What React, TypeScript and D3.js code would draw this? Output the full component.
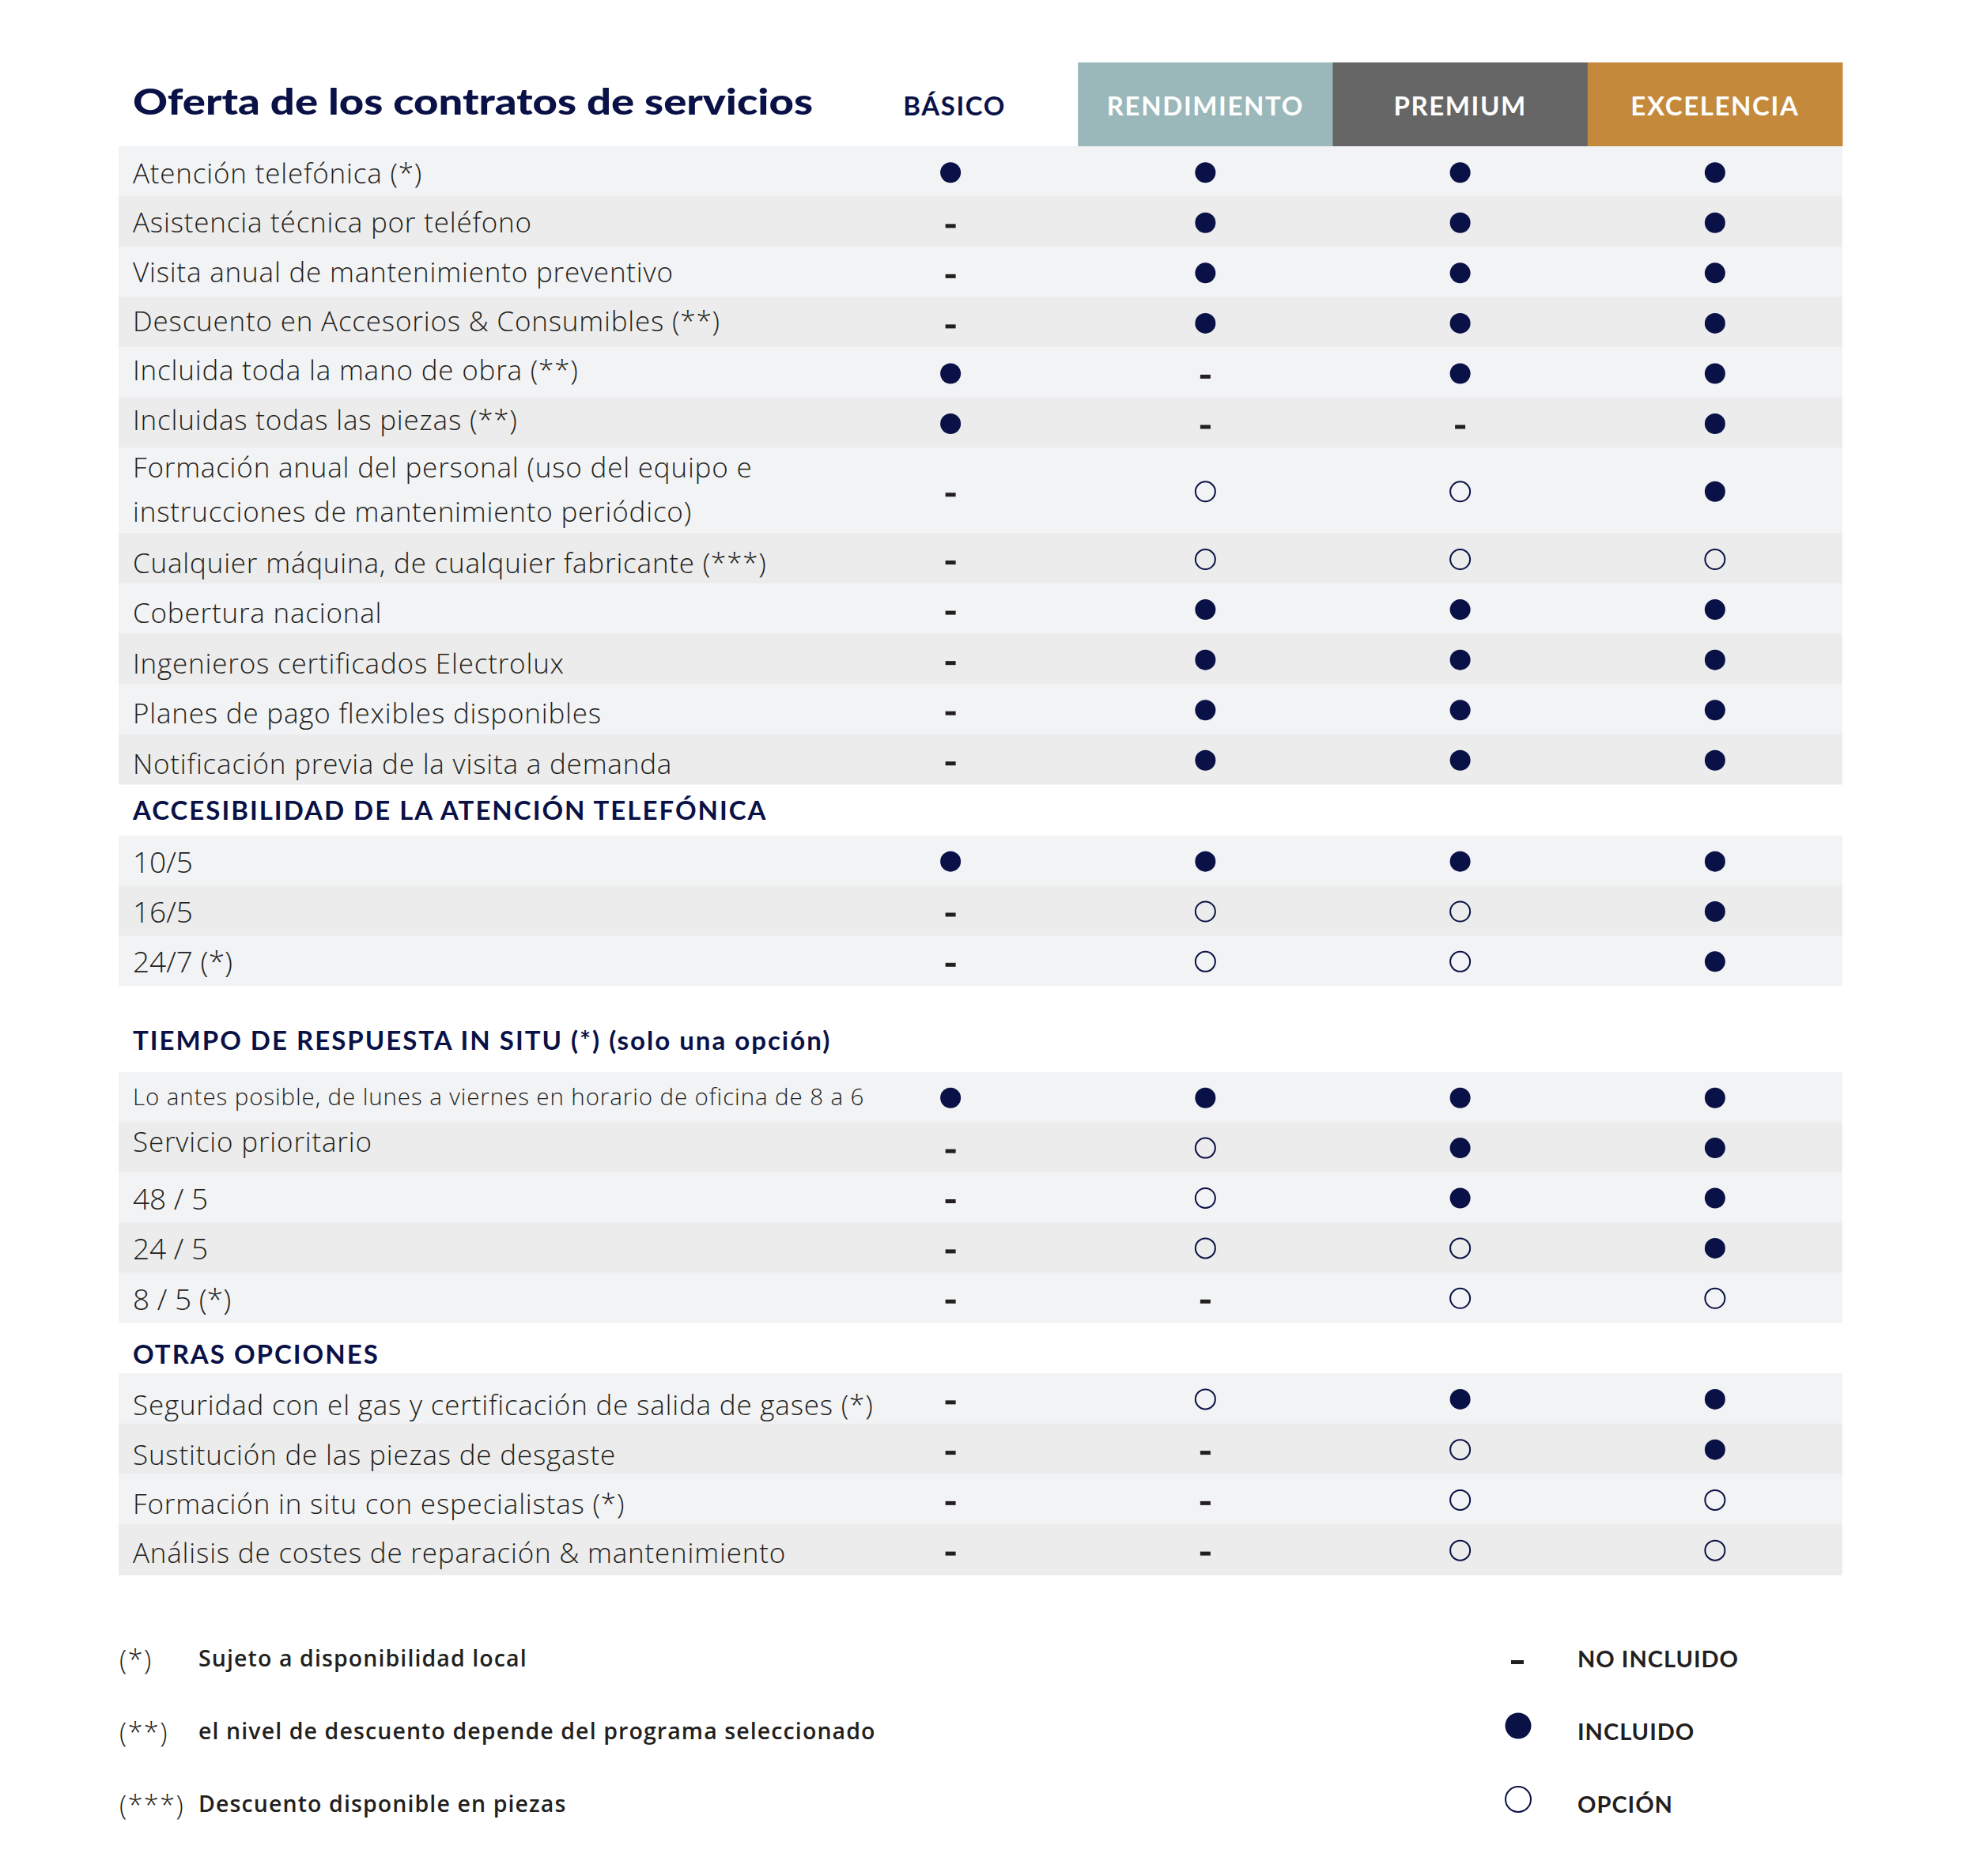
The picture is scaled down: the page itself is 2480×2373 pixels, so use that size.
import React from "react";
import * as d3 from "d3";

// ---------- DATA ----------
const title = "Oferta de los contratos de servicios";
const plans = ["BÁSICO", "RENDIMIENTO", "PREMIUM", "EXCELENCIA"];

// y = incluido, o = opción, n = no incluido
const mainLabels = [
  ["Atención telefónica (*)"],
  ["Asistencia técnica por teléfono"],
  ["Visita anual de mantenimiento preventivo"],
  ["Descuento en Accesorios & Consumibles (**)"],
  ["Incluida toda la mano de obra (**)"],
  ["Incluidas todas las piezas (**)"],
  ["Formación anual del personal (uso del equipo e", "instrucciones de mantenimiento periódico)"],
  ["Cualquier máquina, de cualquier fabricante (***)"],
  ["Cobertura nacional"],
  ["Ingenieros certificados Electrolux"],
  ["Planes de pago flexibles disponibles"],
  ["Notificación previa de la visita a demanda"],
];
const mainValues = [
  ["y", "y", "y", "y"],
  ["n", "y", "y", "y"],
  ["n", "y", "y", "y"],
  ["n", "y", "y", "y"],
  ["y", "n", "y", "y"],
  ["y", "n", "n", "y"],
  ["n", "o", "o", "y"],
  ["n", "o", "o", "o"],
  ["n", "y", "y", "y"],
  ["n", "y", "y", "y"],
  ["n", "y", "y", "y"],
  ["n", "y", "y", "y"],
];

const accessTitle = "ACCESIBILIDAD DE LA ATENCIÓN TELEFÓNICA";
const accessLabels = ["10/5", "16/5", "24/7 (*)"];
const accessValues = [
  ["y", "y", "y", "y"],
  ["n", "o", "o", "y"],
  ["n", "o", "o", "y"],
];

const responseTitle = "TIEMPO DE RESPUESTA IN SITU (*) (solo una opción)";
const responseLabels = [
  "Lo antes posible, de lunes a viernes en horario de oficina de 8 a 6",
  "Servicio prioritario",
  "48 / 5",
  "24 / 5",
  "8 / 5 (*)",
];
const responseValues = [
  ["y", "y", "y", "y"],
  ["n", "o", "y", "y"],
  ["n", "o", "y", "y"],
  ["n", "o", "o", "y"],
  ["n", "n", "o", "o"],
];

const otherTitle = "OTRAS OPCIONES";
const otherLabels = [
  "Seguridad con el gas y certificación de salida de gases (*)",
  "Sustitución de las piezas de desgaste",
  "Formación in situ con especialistas (*)",
  "Análisis de costes de reparación & mantenimiento",
];
const otherValues = [
  ["n", "o", "y", "y"],
  ["n", "n", "o", "y"],
  ["n", "n", "o", "o"],
  ["n", "n", "o", "o"],
];

const footnoteMarks = ["(*)", "(**)", "(***)"];
const footnoteTexts = [
  "Sujeto a disponibilidad local",
  "el nivel de descuento depende del programa seleccionado",
  "Descuento disponible en piezas",
];
const legendKinds = ["n", "y", "o"];
const legendLabels = ["NO INCLUIDO", "INCLUIDO", "OPCIÓN"];

// ---------- STYLE ----------
const NAVY = "#0a1146";
const INK = "#231f20";
const ROW_A = "#f2f3f5";
const ROW_B = "#ececec";
const headerFills = ["none", "#9ab7ba", "#666666", "#c4893b"];
const headerText = [NAVY, "#ffffff", "#ffffff", "#ffffff"];
const BOLD = "Lato, 'Open Sans', sans-serif";
const LIGHT = "'Open Sans', Lato, sans-serif";

const W = 2480;
const H = 2373;

function Mark({ kind, cx, cy, r = 13 }: { kind: string; cx: number; cy: number; r?: number }) {
  if (kind === "y") return <circle cx={cx} cy={cy} r={r} fill={NAVY} />;
  if (kind === "o")
    return <circle cx={cx} cy={cy} r={r - 0.5} fill="none" stroke={NAVY} strokeWidth={2} />;
  const w = r === 13 ? 13 : 16;
  return <rect x={cx - w / 2} y={cy + 4 - 2.5} width={w} height={5} fill={INK} />;
}

const isNumeric = (s: string) => /^[0-9]/.test(s);

export default function App() {
  const x = d3.scaleBand<string>().domain(plans).range([1041, 2330]).paddingInner(0);
  const bw = x.bandwidth();
  const cx = (p: string) => (x(p) as number) + bw / 2;
  const tableLeft = 150;
  const tableRight = 2330;
  const labelX = 168;

  // main section: cumulative row units (double row = 1.7)
  const units = mainLabels.map((l) => (l.length > 1 ? 1.7 : 1));
  const cum = [0, ...d3.cumsum(units)];
  const yMain = d3.scaleLinear().domain([0, cum[cum.length - 1]]).range([185, 992]);
  // text baseline offset from row centre (first rows drift upward, later rows sit lower)
  const mainOffset = (i: number) => (i < 6 ? 15 - 1.15 * i : 18.5);

  const band = (n: number, r0: number, r1: number) =>
    d3.scaleBand<number>().domain(d3.range(n)).range([r0, r1]).paddingInner(0);
  const yAccess = band(accessLabels.length, 1057, 1247);
  const yResp = band(responseLabels.length, 1356, 1673);
  const yOther = band(otherLabels.length, 1737, 1992);

  const textProps = (lab: string, small = false) => {
    if (isNumeric(lab)) return { fontSize: 37, letterSpacing: 0 };
    if (small) return { fontSize: 29.5, letterSpacing: 0.9 };
    return { fontSize: 35, letterSpacing: 0.8 };
  };

  const renderRows = (
    labels: string[],
    values: string[][],
    yb: d3.ScaleBand<number>,
    key: string,
    offset: (i: number) => number
  ) =>
    labels.map((lab, i) => {
      const top = yb(i) as number;
      const h = yb.bandwidth();
      const cy = top + h / 2;
      const tp = textProps(lab, lab.length > 60);
      return (
        <g key={key + i}>
          <rect x={tableLeft} y={top} width={tableRight - tableLeft} height={h + 0.5} fill={i % 2 === 0 ? ROW_A : ROW_B} />
          <text
            x={labelX}
            y={cy + offset(i)}
            fontFamily={LIGHT}
            fontWeight={300}
            fontSize={tp.fontSize}
            letterSpacing={tp.letterSpacing}
            fill={INK}
          >
            {lab}
          </text>
          {values[i].map((v, j) => (
            <Mark key={j} kind={v} cx={cx(plans[j])} cy={cy + 1} />
          ))}
        </g>
      );
    });

  const respOffset = (i: number) => (i === 0 ? 10 : i === 1 ? 6 : 15.5);

  return (
    <svg
      width={W}
      height={H}
      viewBox={`0 0 ${W} ${H}`}
      style={{ position: "absolute", left: 0, top: 0, display: "block", background: "#ffffff" }}
    >
      <rect x={0} y={0} width={W} height={H} fill="#ffffff" />

      {/* Title */}
      <text
        x={labelX}
        y={145}
        fontFamily={BOLD}
        fontWeight={900}
        fontSize={46}
        fill={NAVY}
        textLength={860}
        lengthAdjust="spacingAndGlyphs"
      >
        {title}
      </text>

      {/* Header boxes */}
      {plans.map((p, j) => (
        <g key={p}>
          {headerFills[j] !== "none" && (
            <rect x={x(p) as number} y={79} width={bw + 0.5} height={106} fill={headerFills[j]} />
          )}
          <text
            x={cx(p) + (j === 0 ? 5 : 0)}
            y={146}
            textAnchor="middle"
            fontFamily={BOLD}
            fontWeight={700}
            fontSize={33}
            letterSpacing={1.6}
            fill={headerText[j]}
          >
            {p}
          </text>
        </g>
      ))}

      {/* Main rows */}
      {mainLabels.map((lines, i) => {
        const top = yMain(cum[i]);
        const bot = yMain(cum[i + 1]);
        const cy = (top + bot) / 2;
        return (
          <g key={"m" + i}>
            <rect x={tableLeft} y={top} width={tableRight - tableLeft} height={bot - top + 0.5} fill={i % 2 === 0 ? ROW_A : ROW_B} />
            {lines.length === 1 ? (
              <text x={labelX} y={cy + mainOffset(i)} fontFamily={LIGHT} fontWeight={300} fontSize={35} letterSpacing={0.8} fill={INK}>
                {lines[0]}
              </text>
            ) : (
              lines.map((ln, k) => (
                <text
                  key={k}
                  x={labelX}
                  y={top + 37.5 + k * 56}
                  fontFamily={LIGHT}
                  fontWeight={300}
                  fontSize={35}
                  letterSpacing={0.8}
                  fill={INK}
                >
                  {ln}
                </text>
              ))
            )}
            {mainValues[i].map((v, j) => (
              <Mark key={j} kind={v} cx={cx(plans[j])} cy={cy + 1.5} />
            ))}
          </g>
        );
      })}

      {/* Section: accessibility */}
      <text x={labelX} y={1037} fontFamily={BOLD} fontWeight={700} fontSize={33} letterSpacing={2} fill={NAVY}>
        {accessTitle}
      </text>
      {renderRows(accessLabels, accessValues, yAccess, "a", () => 15)}

      {/* Section: response time */}
      <text x={labelX} y={1328} fontFamily={BOLD} fontWeight={700} fontSize={33} letterSpacing={2} fill={NAVY}>
        {responseTitle}
      </text>
      {renderRows(responseLabels, responseValues, yResp, "r", respOffset)}

      {/* Section: other options */}
      <text x={labelX} y={1725} fontFamily={BOLD} fontWeight={700} fontSize={33} letterSpacing={2} fill={NAVY}>
        {otherTitle}
      </text>
      {renderRows(otherLabels, otherValues, yOther, "o", (i) => 21.5 - 1.5 * i)}

      {/* Footnotes */}
      {footnoteMarks.map((m, i) => (
        <g key={"f" + i}>
          <text x={151} y={2112 + i * 92} fontFamily={LIGHT} fontWeight={300} fontSize={34} fill={INK} letterSpacing={1.5}>
            {m}
          </text>
          <text
            x={251}
            y={2108 + i * 92}
            fontFamily={LIGHT}
            fontWeight={600}
            fontSize={28.5}
            letterSpacing={1.1}
            fill={INK}
          >
            {footnoteTexts[i]}
          </text>
        </g>
      ))}

      {/* Legend */}
      {legendKinds.map((k, i) => (
        <g key={"l" + i}>
          {k === "n" ? (
            <rect x={1911} y={2100} width={16} height={5} fill={INK} />
          ) : (
            <Mark kind={k} cx={1920} cy={2183 + (i - 1) * 93} r={16.5} />
          )}
          <text x={1995} y={2109 + i * 92} fontFamily={BOLD} fontWeight={700} fontSize={29} fill={INK} letterSpacing={1}>
            {legendLabels[i]}
          </text>
        </g>
      ))}
    </svg>
  );
}
